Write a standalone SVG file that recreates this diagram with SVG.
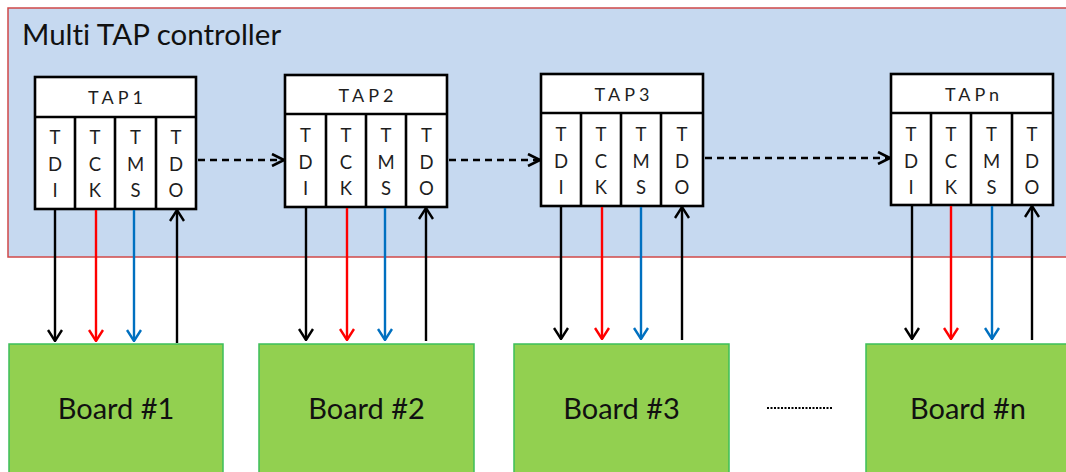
<svg xmlns="http://www.w3.org/2000/svg" width="1066" height="472" viewBox="0 0 1066 472">
  <style>
    text { font-variant-ligatures: none; }
    .ctrl { fill: #C6D9F0; stroke: #D04848; stroke-width: 1.5; }
    .title { font-family: Lato, "Liberation Sans", sans-serif; font-size: 29.5px; fill: #111111; }
    .tap rect { fill: #FFFFFF; stroke: #000000; stroke-width: 2.6; }
    .tap line { stroke: #000000; stroke-width: 2.6; }
    .hdr { font-family: Lato, "Liberation Sans", sans-serif; font-size: 18px; fill: #1E1E1E; letter-spacing: 4px; text-anchor: middle; }
    .pin { font-family: Lato, "Liberation Sans", sans-serif; font-size: 18.5px; fill: #1E1E1E; text-anchor: middle; }
    .board rect { fill: #92D050; stroke: #3CBF5A; stroke-width: 1.5; }
    .blabel { font-family: Lato, "Liberation Sans", sans-serif; font-size: 29px; fill: #111111; text-anchor: middle; }
    .chain { stroke: #000000; stroke-width: 2.6; stroke-dasharray: 7 5; fill: none; }
    .sig { stroke-width: 2.4; fill: none; }
    .k { stroke: #000000; }
    .r { stroke: #FF0000; }
    .b { stroke: #0070C0; }
  </style>
  <defs>
    <marker id="ah-k" viewBox="0 0 13 16" refX="12" refY="8" markerWidth="13" markerHeight="16" markerUnits="userSpaceOnUse" orient="auto">
      <path d="M1 1 L12 8 L1 15" fill="none" stroke="#000000" stroke-width="2.4"/>
    </marker>
    <marker id="ah-r" viewBox="0 0 13 16" refX="12" refY="8" markerWidth="13" markerHeight="16" markerUnits="userSpaceOnUse" orient="auto">
      <path d="M1 1 L12 8 L1 15" fill="none" stroke="#FF0000" stroke-width="2.4"/>
    </marker>
    <marker id="ah-b" viewBox="0 0 13 16" refX="12" refY="8" markerWidth="13" markerHeight="16" markerUnits="userSpaceOnUse" orient="auto">
      <path d="M1 1 L12 8 L1 15" fill="none" stroke="#0070C0" stroke-width="2.4"/>
    </marker>
    <marker id="ah-d" viewBox="0 0 14 14" refX="13" refY="7" markerWidth="14" markerHeight="14" markerUnits="userSpaceOnUse" orient="auto">
      <path d="M1 1 L13 7 L1 13" fill="none" stroke="#000000" stroke-width="2.6"/>
    </marker>
  </defs>

  <!-- controller enclosure -->
  <g id="controller">
    <rect class="ctrl" x="8" y="8" width="1070" height="249"/>
    <text class="title" x="22" y="45">Multi TAP controller</text>
  </g>

  <!-- TAP 1 -->
  <g id="tap1" class="tap">
    <rect x="35" y="77" width="161" height="132"/>
    <line x1="35" y1="117" x2="196" y2="117"/>
    <line x1="75" y1="117" x2="75" y2="209"/>
    <line x1="115" y1="117" x2="115" y2="209"/>
    <line x1="156" y1="117" x2="156" y2="209"/>
    <text class="hdr" x="117.5" y="104">TAP1</text>
    <text class="pin" x="55" y="144">T</text><text class="pin" x="55" y="171">D</text><text class="pin" x="55" y="197">I</text>
    <text class="pin" x="95" y="144">T</text><text class="pin" x="95" y="171">C</text><text class="pin" x="95" y="197">K</text>
    <text class="pin" x="135.5" y="144">T</text><text class="pin" x="135.5" y="171">M</text><text class="pin" x="135.5" y="197">S</text>
    <text class="pin" x="176" y="144">T</text><text class="pin" x="176" y="171">D</text><text class="pin" x="176" y="197">O</text>
  </g>

  <!-- TAP 2 -->
  <g id="tap2" class="tap">
    <rect x="285" y="75" width="162" height="132"/>
    <line x1="285" y1="114" x2="447" y2="114"/>
    <line x1="326" y1="114" x2="326" y2="207"/>
    <line x1="366" y1="114" x2="366" y2="207"/>
    <line x1="406" y1="114" x2="406" y2="207"/>
    <text class="hdr" x="368" y="102">TAP2</text>
    <text class="pin" x="305.5" y="142">T</text><text class="pin" x="305.5" y="169">D</text><text class="pin" x="305.5" y="195">I</text>
    <text class="pin" x="346" y="142">T</text><text class="pin" x="346" y="169">C</text><text class="pin" x="346" y="195">K</text>
    <text class="pin" x="386" y="142">T</text><text class="pin" x="386" y="169">M</text><text class="pin" x="386" y="195">S</text>
    <text class="pin" x="426.5" y="142">T</text><text class="pin" x="426.5" y="169">D</text><text class="pin" x="426.5" y="195">O</text>
  </g>

  <!-- TAP 3 -->
  <g id="tap3" class="tap">
    <rect x="541" y="74" width="162" height="132"/>
    <line x1="541" y1="113" x2="703" y2="113"/>
    <line x1="581" y1="113" x2="581" y2="206"/>
    <line x1="621" y1="113" x2="621" y2="206"/>
    <line x1="661" y1="113" x2="661" y2="206"/>
    <text class="hdr" x="624" y="101">TAP3</text>
    <text class="pin" x="561" y="141">T</text><text class="pin" x="561" y="168">D</text><text class="pin" x="561" y="194">I</text>
    <text class="pin" x="601" y="141">T</text><text class="pin" x="601" y="168">C</text><text class="pin" x="601" y="194">K</text>
    <text class="pin" x="641" y="141">T</text><text class="pin" x="641" y="168">M</text><text class="pin" x="641" y="194">S</text>
    <text class="pin" x="682" y="141">T</text><text class="pin" x="682" y="168">D</text><text class="pin" x="682" y="194">O</text>
  </g>

  <!-- TAP n -->
  <g id="tapn" class="tap">
    <rect x="891" y="74" width="162" height="131"/>
    <line x1="891" y1="113" x2="1053" y2="113"/>
    <line x1="931" y1="113" x2="931" y2="205"/>
    <line x1="971" y1="113" x2="971" y2="205"/>
    <line x1="1012" y1="113" x2="1012" y2="205"/>
    <text class="hdr" x="974" y="101">TAPn</text>
    <text class="pin" x="911" y="141">T</text><text class="pin" x="911" y="168">D</text><text class="pin" x="911" y="194">I</text>
    <text class="pin" x="951" y="141">T</text><text class="pin" x="951" y="168">C</text><text class="pin" x="951" y="194">K</text>
    <text class="pin" x="991.5" y="141">T</text><text class="pin" x="991.5" y="168">M</text><text class="pin" x="991.5" y="194">S</text>
    <text class="pin" x="1032" y="141">T</text><text class="pin" x="1032" y="168">D</text><text class="pin" x="1032" y="194">O</text>
  </g>

  <!-- boards -->
  <g id="board1" class="board">
    <rect x="9" y="344" width="214" height="140"/>
    <text class="blabel" x="116" y="419">Board #1</text>
  </g>
  <g id="board2" class="board">
    <rect x="259" y="344" width="215" height="140"/>
    <text class="blabel" x="366.5" y="419">Board #2</text>
  </g>
  <g id="board3" class="board">
    <rect x="514" y="344" width="215" height="140"/>
    <text class="blabel" x="621.5" y="419">Board #3</text>
  </g>
  <g id="boardn" class="board">
    <rect x="866" y="344" width="215" height="140"/>
    <text class="blabel" x="968" y="419">Board #n</text>
  </g>

  <!-- connectors -->
  <g id="connectors">
    <!-- scan chain TDO to next TDI -->
    <line class="chain" x1="198" y1="160" x2="284" y2="160" marker-end="url(#ah-d)"/>
    <line class="chain" x1="449" y1="160" x2="540" y2="160" marker-end="url(#ah-d)"/>
    <line class="chain" x1="705" y1="158" x2="890" y2="158" marker-end="url(#ah-d)"/>

    <!-- TAP 1 signals -->
    <line class="sig k" x1="55" y1="210" x2="55" y2="341" marker-end="url(#ah-k)"/>
    <line class="sig r" x1="96" y1="210" x2="96" y2="341" marker-end="url(#ah-r)"/>
    <line class="sig b" x1="134" y1="210" x2="134" y2="341" marker-end="url(#ah-b)"/>
    <line class="sig k" x1="177" y1="343" x2="177" y2="210" marker-end="url(#ah-k)"/>

    <!-- TAP 2 signals -->
    <line class="sig k" x1="306" y1="208" x2="306" y2="340" marker-end="url(#ah-k)"/>
    <line class="sig r" x1="347" y1="208" x2="347" y2="340" marker-end="url(#ah-r)"/>
    <line class="sig b" x1="385" y1="208" x2="385" y2="340" marker-end="url(#ah-b)"/>
    <line class="sig k" x1="426" y1="341" x2="426" y2="208" marker-end="url(#ah-k)"/>

    <!-- TAP 3 signals -->
    <line class="sig k" x1="561" y1="207" x2="561" y2="339" marker-end="url(#ah-k)"/>
    <line class="sig r" x1="602" y1="207" x2="602" y2="339" marker-end="url(#ah-r)"/>
    <line class="sig b" x1="641" y1="207" x2="641" y2="339" marker-end="url(#ah-b)"/>
    <line class="sig k" x1="682" y1="340" x2="682" y2="207" marker-end="url(#ah-k)"/>

    <!-- TAP n signals -->
    <line class="sig k" x1="912" y1="206" x2="912" y2="339" marker-end="url(#ah-k)"/>
    <line class="sig r" x1="951" y1="206" x2="951" y2="339" marker-end="url(#ah-r)"/>
    <line class="sig b" x1="992" y1="206" x2="992" y2="339" marker-end="url(#ah-b)"/>
    <line class="sig k" x1="1032" y1="340" x2="1032" y2="206" marker-end="url(#ah-k)"/>

    <!-- ellipsis between boards -->
    <line x1="767" y1="408" x2="833" y2="408" stroke="#000000" stroke-width="2" stroke-dasharray="2 1.5"/>
  </g>
</svg>
